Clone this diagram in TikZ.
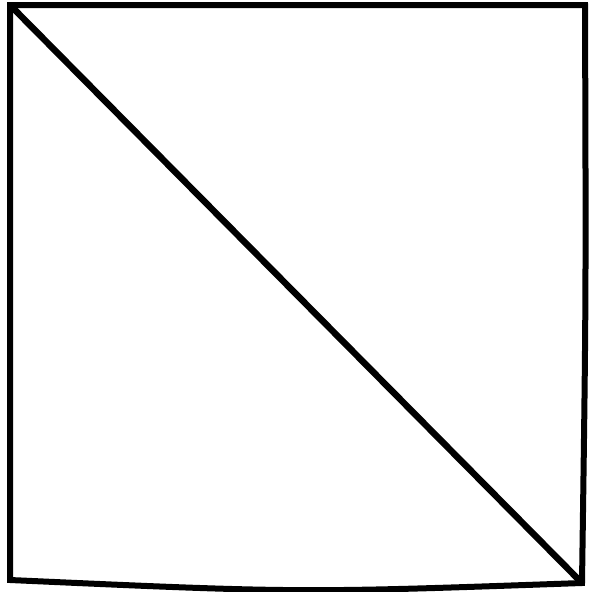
\documentclass[tikz,border=0pt]{standalone}
\begin{document}
\begin{tikzpicture}[x=1pt,y=-1pt,edge/.style={line width=6pt,line join=miter,line cap=rect}]
\useasboundingbox (0,0) rectangle (589,592);
\fill[white] (0,0) rectangle (589,592);
\coordinate (tl) at (10,5);
\coordinate (tr) at (585,5);
\coordinate (br) at (582,583);
\coordinate (bl) at (10,580);
\draw[edge] (bl) -- (tl) -- (tr) .. controls (586,300) .. (br) .. controls (300,593) .. (bl) -- cycle;
\draw[line width=6.5pt] (tl) -- (br);
\end{tikzpicture}
\end{document}
